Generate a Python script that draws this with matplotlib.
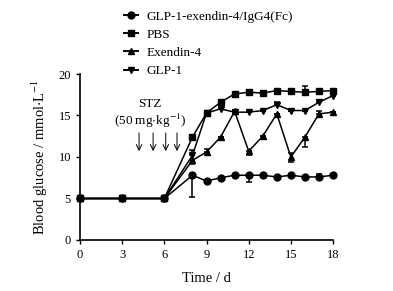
import matplotlib
matplotlib.use("Agg")
from matplotlib import pyplot as plt
from matplotlib.lines import Line2D

plt.rcParams['font.family'] = ['Liberation Serif', 'DejaVu Serif']
plt.rcParams['mathtext.fontset'] = 'stix'

days = [0, 3, 6, 8, 9, 10, 11, 12, 13, 14, 15, 16, 17, 18]

fusion = [5.0, 5.0, 5.0, 7.8, 7.1, 7.5, 7.8, 7.8, 7.8, 7.6, 7.8, 7.6, 7.6, 7.8]
fusion_lo = [0, 0, 0, 2.6, 0, 0, 0, 0.8, 0, 0, 0, 0, 0, 0]
fusion_hi = [0, 0, 0, 0, 0, 0, 0, 0, 0, 0, 0, 0, 0.3, 0]

pbs = [5.0, 5.0, 5.0, 12.4, 15.3, 16.6, 17.6, 17.8, 17.7, 18.0, 17.9, 17.8, 17.9, 18.0]
pbs_lo = [0, 0, 0, 0, 0, 0, 0, 0, 0, 0, 0, 0, 0, 0]
pbs_hi = [0, 0, 0, 0, 0, 0.3, 0, 0, 0, 0, 0, 0.8, 0, 0]

exendin = [5.0, 5.0, 5.0, 9.6, 10.6, 12.4, 15.5, 10.7, 12.5, 15.2, 10.0, 12.4, 15.2, 15.4]
exendin_lo = [0, 0, 0, 0.4, 0, 0, 0, 0.4, 0, 0, 0.6, 1.2, 0, 0]
exendin_hi = [0, 0, 0, 0, 0.4, 0, 0, 0, 0, 0, 0.5, 0, 0.4, 0]

glp1 = [5.0, 5.0, 5.0, 10.2, 15.3, 15.8, 15.4, 15.4, 15.6, 16.3, 15.6, 15.6, 16.6, 17.4]
glp1_lo = [0, 0, 0, 0, 0, 0, 0, 0, 0, 0, 0, 0, 0, 0]
glp1_hi = [0, 0, 0, 0.6, 0, 0, 0, 0, 0, 0.3, 0, 0, 0.3, 0.4]

labels = ["GLP-1-exendin-4/IgG4(Fc)", "PBS", "Exendin-4", "GLP-1"]

stz_days = [4.2, 5.2, 6.1, 6.9]

fig = plt.figure(figsize=(3.93, 2.91), dpi=100)
ax = fig.add_axes([0.2036, 0.1753, 0.6438, 0.5704])

series = [(fusion, fusion_lo, fusion_hi, 'o'), (pbs, pbs_lo, pbs_hi, 's'),
          (exendin, exendin_lo, exendin_hi, '^'), (glp1, glp1_lo, glp1_hi, 'v')]
handles = []
for (vals, lo, hi, mk), lab in zip(series, labels):
    h = ax.errorbar(days, vals, yerr=[lo, hi], color='black', marker=mk,
                    markersize=5, linewidth=1.1, elinewidth=1.1,
                    capsize=2.5, capthick=1.1)
    for art in h.get_children():
        art.set_clip_on(False)
    handles.append(Line2D([], [], color='black', marker=mk, markersize=5,
                          linewidth=1.4))

# STZ injection arrows
for d in stz_days:
    ax.annotate("", xy=(d, 10.7), xytext=(d, 12.9),
                arrowprops=dict(arrowstyle='->', color='black', lw=0.7,
                                shrinkA=0, shrinkB=0))
ax.text(5.0, 16.4, "STZ", ha='center', va='center', fontsize=9.5)
ax.text(5.0, 14.3, r"(50 mg$\cdot$kg$^{-1}$)", ha='center', va='center', fontsize=9.5)

ax.set_xlim(0, 18)
ax.set_ylim(0, 20)
ax.set_xticks([0, 3, 6, 9, 12, 15, 18])
ax.set_yticks([0, 5, 10, 15, 20])
ax.spines['top'].set_visible(False)
ax.spines['right'].set_visible(False)
ax.spines['left'].set_linewidth(1.2)
ax.spines['bottom'].set_linewidth(1.2)
ax.tick_params(direction='out', length=3, width=1.0, labelsize=9)
ax.set_xlabel("Time / d", fontsize=10.5, labelpad=8)
ax.set_ylabel(r"Blood glucose / mmol$\cdot$L$^{-1}$", fontsize=10.5, labelpad=6)

fig.legend(handles=handles, labels=labels, loc='upper left',
           bbox_to_anchor=(0.285, 1.005), frameon=False, fontsize=9.5,
           handlelength=1.1, labelspacing=0.45, handletextpad=0.6)

fig.savefig("out.png", dpi=100)
